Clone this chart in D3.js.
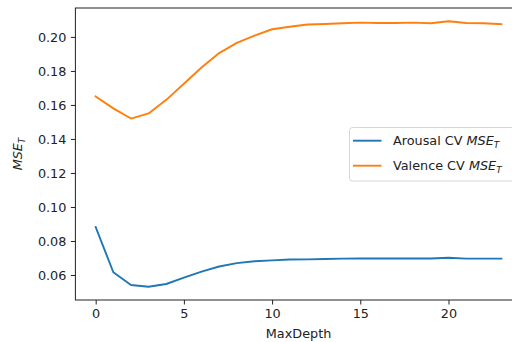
<!DOCTYPE html>
<html lang="en">
<head>
    <meta charset="UTF-8">
    <title>MaxDepth vs MSE</title>
    <script src="https://d3js.org/d3.v7.min.js"></script>
    <style>
        body { margin: 0; background: white; }
        text { font-family: "DejaVu Sans", sans-serif; fill: #222; }
    </style>
</head>
<body>
    <svg></svg>
    <script>
        // data
        const maxDepth = d3.range(0, 24);
        const arousal = [0.0882, 0.0616, 0.0541, 0.0531, 0.0547, 0.0585, 0.0620, 0.0650, 0.0670, 0.0681,
                         0.0686, 0.0691, 0.0692, 0.0694, 0.0696, 0.0697, 0.0697, 0.0697, 0.0697, 0.0697,
                         0.0701, 0.0696, 0.0696, 0.0696];
        const valence = [0.1650, 0.1580, 0.1520, 0.1550, 0.1630, 0.1725, 0.1820, 0.1905, 0.1965, 0.2008,
                         0.2045, 0.2060, 0.2073, 0.2076, 0.2080, 0.2084, 0.2082, 0.2082, 0.2084, 0.2080,
                         0.2092, 0.2082, 0.2080, 0.2075];
        const seriesNames = ["Arousal CV ", "Valence CV "];
        const colors = ["#1f77b4", "#ff7f0e"];
        const xTicks = [0, 5, 10, 15, 20];
        const yTicks = [0.06, 0.08, 0.10, 0.12, 0.14, 0.16, 0.18, 0.20];

        const W = 512, H = 342;
        const mLeft = 75.4, mRight = 521.7, mTop = 8, mBottom = 300;
        const fs = 12.8;

        const svg = d3.select("svg").attr("width", W).attr("height", H);

        // matplotlib-style 5% margins
        const xmin = d3.min(maxDepth), xmax = d3.max(maxDepth);
        const xpad = (xmax - xmin) * 0.05;
        const x = d3.scaleLinear().domain([xmin - xpad, xmax + xpad]).range([mLeft, mRight]);
        const all = arousal.concat(valence);
        const ymin = d3.min(all), ymax = d3.max(all);
        const ypad = (ymax - ymin) * 0.05;
        const y = d3.scaleLinear().domain([ymin - ypad, ymax + ypad]).range([mBottom, mTop]);

        const series = [arousal, valence];
        const line = d3.line().x((d, i) => x(maxDepth[i])).y(d => y(d));

        svg.append("g").selectAll("path")
            .data(series)
            .join("path")
            .attr("d", line)
            .attr("fill", "none")
            .attr("stroke", (d, i) => colors[i])
            .attr("stroke-width", 1.9)
            .attr("stroke-linejoin", "round")
            .attr("stroke-linecap", "square");

        // axes
        const xAxis = d3.axisBottom(x).tickValues(xTicks).tickFormat(d3.format("d"))
            .tickSize(4.5).tickPadding(4.5);
        const gx = svg.append("g").attr("transform", `translate(0,${mBottom})`).call(xAxis);
        const yAxis = d3.axisLeft(y).tickValues(yTicks).tickFormat(d3.format(".2f"))
            .tickSize(4.5).tickPadding(4.5);
        const gy = svg.append("g").attr("transform", `translate(${mLeft},0)`).call(yAxis);
        [gx, gy].forEach(g => {
            g.select(".domain").remove();
            g.selectAll("line").attr("stroke", "#222").attr("stroke-width", 1);
            g.selectAll("text").attr("font-size", fs).attr("font-family", "DejaVu Sans").attr("fill", "#222");
        });

        // spines
        svg.append("rect")
            .attr("x", mLeft).attr("y", mTop)
            .attr("width", mRight - mLeft).attr("height", mBottom - mTop)
            .attr("fill", "none").attr("stroke", "#222").attr("stroke-width", 1);

        // axis labels
        svg.append("text")
            .attr("x", (mLeft + mRight) / 2).attr("y", 337.5)
            .attr("text-anchor", "middle").attr("font-size", fs)
            .text("MaxDepth");

        const yl = svg.append("text")
            .attr("transform", `translate(22,${(mTop + mBottom) / 2}) rotate(-90)`)
            .attr("text-anchor", "middle").attr("font-size", fs)
            .attr("font-style", "italic");
        yl.append("tspan").text("MSE");
        yl.append("tspan").attr("font-size", fs * 0.7).attr("dy", 3).text("T");

        // legend
        const lg = svg.append("g");
        lg.append("rect")
            .attr("x", 349.5).attr("y", 127.5).attr("width", 166).attr("height", 53.5)
            .attr("rx", 3).attr("fill", "white").attr("fill-opacity", 0.8)
            .attr("stroke", "#d6d6d6").attr("stroke-width", 1);
        const rows = lg.selectAll("g.row")
            .data(seriesNames)
            .join("g")
            .attr("class", "row")
            .attr("transform", (d, i) => `translate(0,${140.7 + i * 25})`);
        rows.append("line")
            .attr("x1", 353).attr("x2", 381.5)
            .attr("stroke", (d, i) => colors[i]).attr("stroke-width", 1.9);
        const lt = rows.append("text")
            .attr("x", 393).attr("y", 4.6).attr("font-size", fs);
        lt.append("tspan").text(d => d);
        lt.append("tspan").attr("font-style", "italic").text("MSE");
        lt.append("tspan").attr("font-style", "italic").attr("font-size", fs * 0.7).attr("dy", 2.5).text("T");
    </script>
</body>
</html>
